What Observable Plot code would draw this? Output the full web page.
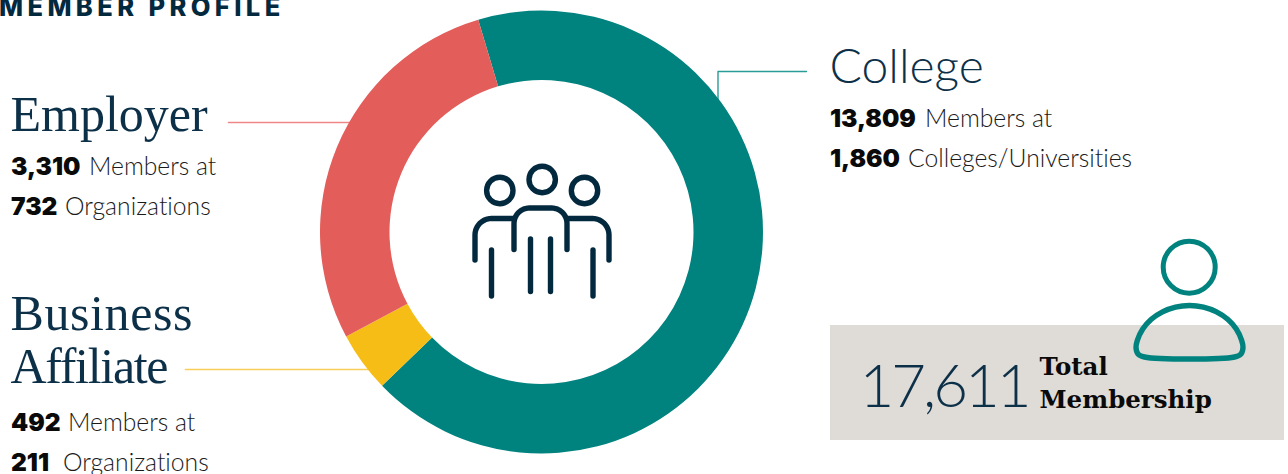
<!DOCTYPE html>
<html>
<head>
<meta charset="utf-8">
<script src="https://cdn.jsdelivr.net/npm/d3@7"></script>
<script src="https://cdn.jsdelivr.net/npm/@observablehq/plot@0.6"></script>
<style>
html,body{margin:0;padding:0;background:#fff;overflow:hidden}
svg{display:block}
svg text{font-variant-ligatures:none}
.ttl text{letter-spacing:4.4px}
.big text{letter-spacing:-3px}
.tightSlab text{letter-spacing:-1.3px}
.wideSlab text{letter-spacing:0.6px}
</style>
</head>
<body>
<div id="chart"></div>
<script>
// ---- data ----
const categories = ["College", "Business Affiliate", "Employer"];
const sliceShares = [67.4, 4.4, 28.2]; // share of the ring as drawn
const memberCounts = ["13,809", "492", "3,310"];
const siteCounts = ["1,860", "211", "732"];
const siteLabels = ["Colleges/Universities", "Organizations", "Organizations"];
const totalMembers = "17,611";
const sliceColors = ["#00827f", "#f6bd16", "#e35d5a"];

// ---- layout ----
const W = 1288, H = 474;
const navy = "#0d3049", iconNavy = "#03293f", black = "#0a0a0a";
const cx = 541.5, cy = 232, R = 221.5, r0 = 152, startDeg = -16.6;
const rad = d => d * Math.PI / 180;
const slab = "'Liberation Serif', serif";
const sans = "Lato, sans-serif";
const heavy = "Inter, sans-serif";

const [bizWord, affWord] = categories[1].split(" ");

const lines = [
  {n: memberCounts[0], l: "Members at", x: 829.5, y: 126.5, lx: 924.5},
  {n: siteCounts[0], l: siteLabels[0], x: 829.5, y: 166.5, lx: 907.5},
  {n: memberCounts[2], l: "Members at", x: 10.5, y: 174, lx: 88.5},
  {n: siteCounts[2], l: siteLabels[2], x: 10.5, y: 214, lx: 64.5},
  {n: memberCounts[1], l: "Members at", x: 10.5, y: 430, lx: 67.5},
  {n: siteCounts[1], l: siteLabels[1], x: 10.5, y: 470, lx: 62.5}
];

const arc = (x, y, r, a0, a1) => d3.range(0, 13).map(i => {
  const a = rad(a0 + (a1 - a0) * i / 12);
  return {x: x + r * Math.cos(a), y: y + r * Math.sin(a)};
});
const P = (x, y) => ({x, y});
const centerBody = [P(513.5,249), ...arc(529,223,15.5,180,270), ...arc(551,223,15.5,270,360), P(566.5,249)];
const leftBody = [P(474.5,259.5), ...arc(491,234.5,16.5,180,270), P(513.5,218)];
const rightBody = [P(608.5,259.5), ...arc(592,234.5,16.5,0,-90), P(566.5,218)];
const legs = [[491,249.5,295.5],[592.5,249.5,295.5],[530,238.5,291],[550,238.5,291]]
  .map(([x,y1,y2]) => [P(x,y1),P(x,y2)]);
const heads3 = [P(499.3,190),P(541.7,179),P(584,190)];
const personBody = [
  ...d3.range(-15, -166, -15).map(a => P(1189 + 54 * Math.cos(rad(a)), 352 + 47 * Math.sin(rad(a)))),
  P(1135.5,347), P(1137.5,353.5), P(1144,356.5), P(1234,356.5), P(1240.5,353.5), P(1242.5,347)
];

const iconLine = (pts, extra = {}) => Plot.line(pts, {x:"x", y:"y", stroke:iconNavy, strokeWidth:5.4,
  strokeLinecap:"round", strokeLinejoin:"round", ...extra});

const slabText = (t, x, y, className) => Plot.text([t], {x: () => x, y: () => y, text: d => d,
  fontFamily: slab, textAnchor:"start", lineAnchor:"bottom", fontSize: 50, fill: navy, fontWeight: 400, className});

// ring slices go through d3.pie / d3.arc, anchored by Plot's scales
const ring = (index, {x, y}) => {
  const pie = d3.pie().sort(null).startAngle(rad(startDeg)).endAngle(rad(startDeg + 360))(sliceShares);
  const a = d3.arc().innerRadius(r0).outerRadius(R);
  const g = d3.create("svg:g").attr("transform", `translate(${x(cx)},${y(cy)})`);
  g.selectAll("path").data(pie).join("path").attr("d", a).attr("fill", (d, i) => sliceColors[i]);
  return g.node();
};

const plot = Plot.plot({
  width: W, height: H, margin: 0,
  style: {background: "#fff"},
  x: {axis: null, type: "linear", domain: [0, W], range: [0, W]},
  y: {axis: null, type: "linear", domain: [0, H], range: [0, H]},
  marks: [
    // title
    Plot.text(["MEMBER PROFILE"], {x: () => -1.5, y: () => 15, text: d => d, textAnchor: "start", lineAnchor: "bottom",
      fontFamily: heavy, fontWeight: 800, fontSize: 25.5, fill: iconNavy, className: "ttl"}),
    // grey box
    Plot.rect([0], {x1: () => 830, x2: () => 1284, y1: () => 325, y2: () => 440, fill: "#dfdcd8"}),
    // leaders
    Plot.line([P(806,71),P(717.5,71),P(717.5,100)], {x:"x", y:"y", stroke:"#2a9c98", strokeWidth:1.4}),
    Plot.line([P(228,122),P(352,122)], {x:"x", y:"y", stroke:"#ee8886", strokeWidth:1.6}),
    Plot.line([P(185,369),P(370,369)], {x:"x", y:"y", stroke:"#f9cd5a", strokeWidth:1.6}),
    // ring
    ring,
    // group icon
    Plot.dot(heads3, {x:"x", y:"y", r: 13.2, stroke: iconNavy, strokeWidth: 5.4, fill: "none"}),
    iconLine(centerBody), iconLine(leftBody), iconLine(rightBody),
    ...legs.map(l => iconLine(l)),
    // person icon
    Plot.dot([P(1188.7,266.7)], {x:"x", y:"y", r: 26, stroke: "#00827f", strokeWidth: 5, fill: "none"}),
    Plot.line(personBody, {x:"x", y:"y", stroke:"#00827f", strokeWidth:5.4, curve:"catmull-rom-closed", fill:"none"}),
    // headings
    Plot.text([categories[0]], {x: () => 829, y: () => 82, text: d => d, textAnchor:"start", lineAnchor:"bottom",
      fontFamily: sans, fontWeight: 300, fontSize: 48, fill: navy}),
    slabText(categories[2], 10, 130),
    slabText(bizWord, 10, 329, "wideSlab"),
    slabText(affWord, 10, 382, "tightSlab"),
    // stat lines
    Plot.text(lines, {x:"x", y:"y", text:"n", textAnchor:"start", lineAnchor:"bottom",
      fontFamily: heavy, fontWeight: 900, fontSize: 24.5, fill: black}),
    Plot.text(lines, {x:"lx", y:"y", text:"l", textAnchor:"start", lineAnchor:"bottom",
      fontFamily: sans, fontWeight: 300, fontSize: 24.7, fill: "#1a1a1a"}),
    // total
    Plot.text([totalMembers], {x: () => 859, y: () => 406, text: d => d, textAnchor:"start", lineAnchor:"bottom",
      fontFamily: sans, fontWeight: 300, fontSize: 60, fill: navy, className: "big"}),
    Plot.text(["Total","Membership"], {x: () => 1039, y: (d,i) => i ? 407 : 374, text: d => d, textAnchor:"start", lineAnchor:"bottom",
      fontFamily: "'DejaVu Serif', serif", fontWeight: 700, fontSize: 24.5, fill: black})
  ]
});
document.getElementById("chart").append(plot);
</script>
</body>
</html>
